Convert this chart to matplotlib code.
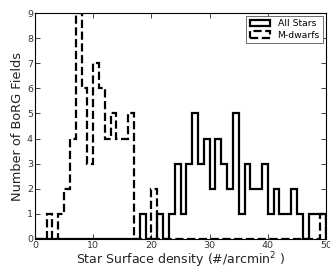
import numpy as np
import matplotlib
matplotlib.use("Agg")
import matplotlib.pyplot as plt

bin_edges = list(range(0, 51))
all_stars = [0]*18 + [1, 0, 0, 1, 0, 1, 3, 1, 3, 5, 3, 4, 2, 4, 3, 2, 5, 1, 3, 2, 2, 3, 1, 2, 1, 1, 2, 1, 0, 1, 1, 1]
m_dwarfs = [0, 0, 1, 0, 1, 2, 4, 9, 6, 3, 7, 6, 4, 5, 4, 4, 5, 0, 0, 0, 2] + [0]*28 + [1]
x_ticks = [0, 10, 20, 30, 40, 50]
y_ticks = list(range(0, 10))

centers = np.array(bin_edges[:-1]) + 0.5

fig = plt.figure(figsize=(3.3, 2.67), dpi=100)
ax = fig.add_axes([0.106, 0.105, 0.882, 0.846])

ax.hist(centers, bins=bin_edges, weights=all_stars, histtype='step',
        color='black', linewidth=1.6, linestyle='-', label='All Stars')
ax.hist(centers, bins=bin_edges, weights=m_dwarfs, histtype='step',
        color='black', linewidth=1.6, linestyle='--', label='M-dwarfs')

ax.set_xlim(0, 50)
ax.set_ylim(0, 9)
ax.set_xticks(x_ticks)
ax.set_yticks(y_ticks)
ax.tick_params(direction='in', top=True, right=True, length=3.5, width=0.6,
               labelsize=6.8, pad=1.5, colors='#222222', labelcolor='#333333')
for s in ax.spines.values():
    s.set_linewidth(0.8)

ax.set_xlabel('Star Surface density (#/arcmin$^2$ )', fontsize=9.0, labelpad=0, color='#222222')
ax.set_ylabel('Number of BoRG Fields', fontsize=9.3, labelpad=2, color='#222222')

leg = ax.legend(loc='upper right', fontsize=6.7, fancybox=False, framealpha=1,
                edgecolor='#555555', borderaxespad=0.3, handlelength=2.2,
                borderpad=0.35, labelspacing=0.3, handletextpad=0.8)
leg.get_frame().set_linewidth(0.6)

fig.savefig('out.png', dpi=100)
